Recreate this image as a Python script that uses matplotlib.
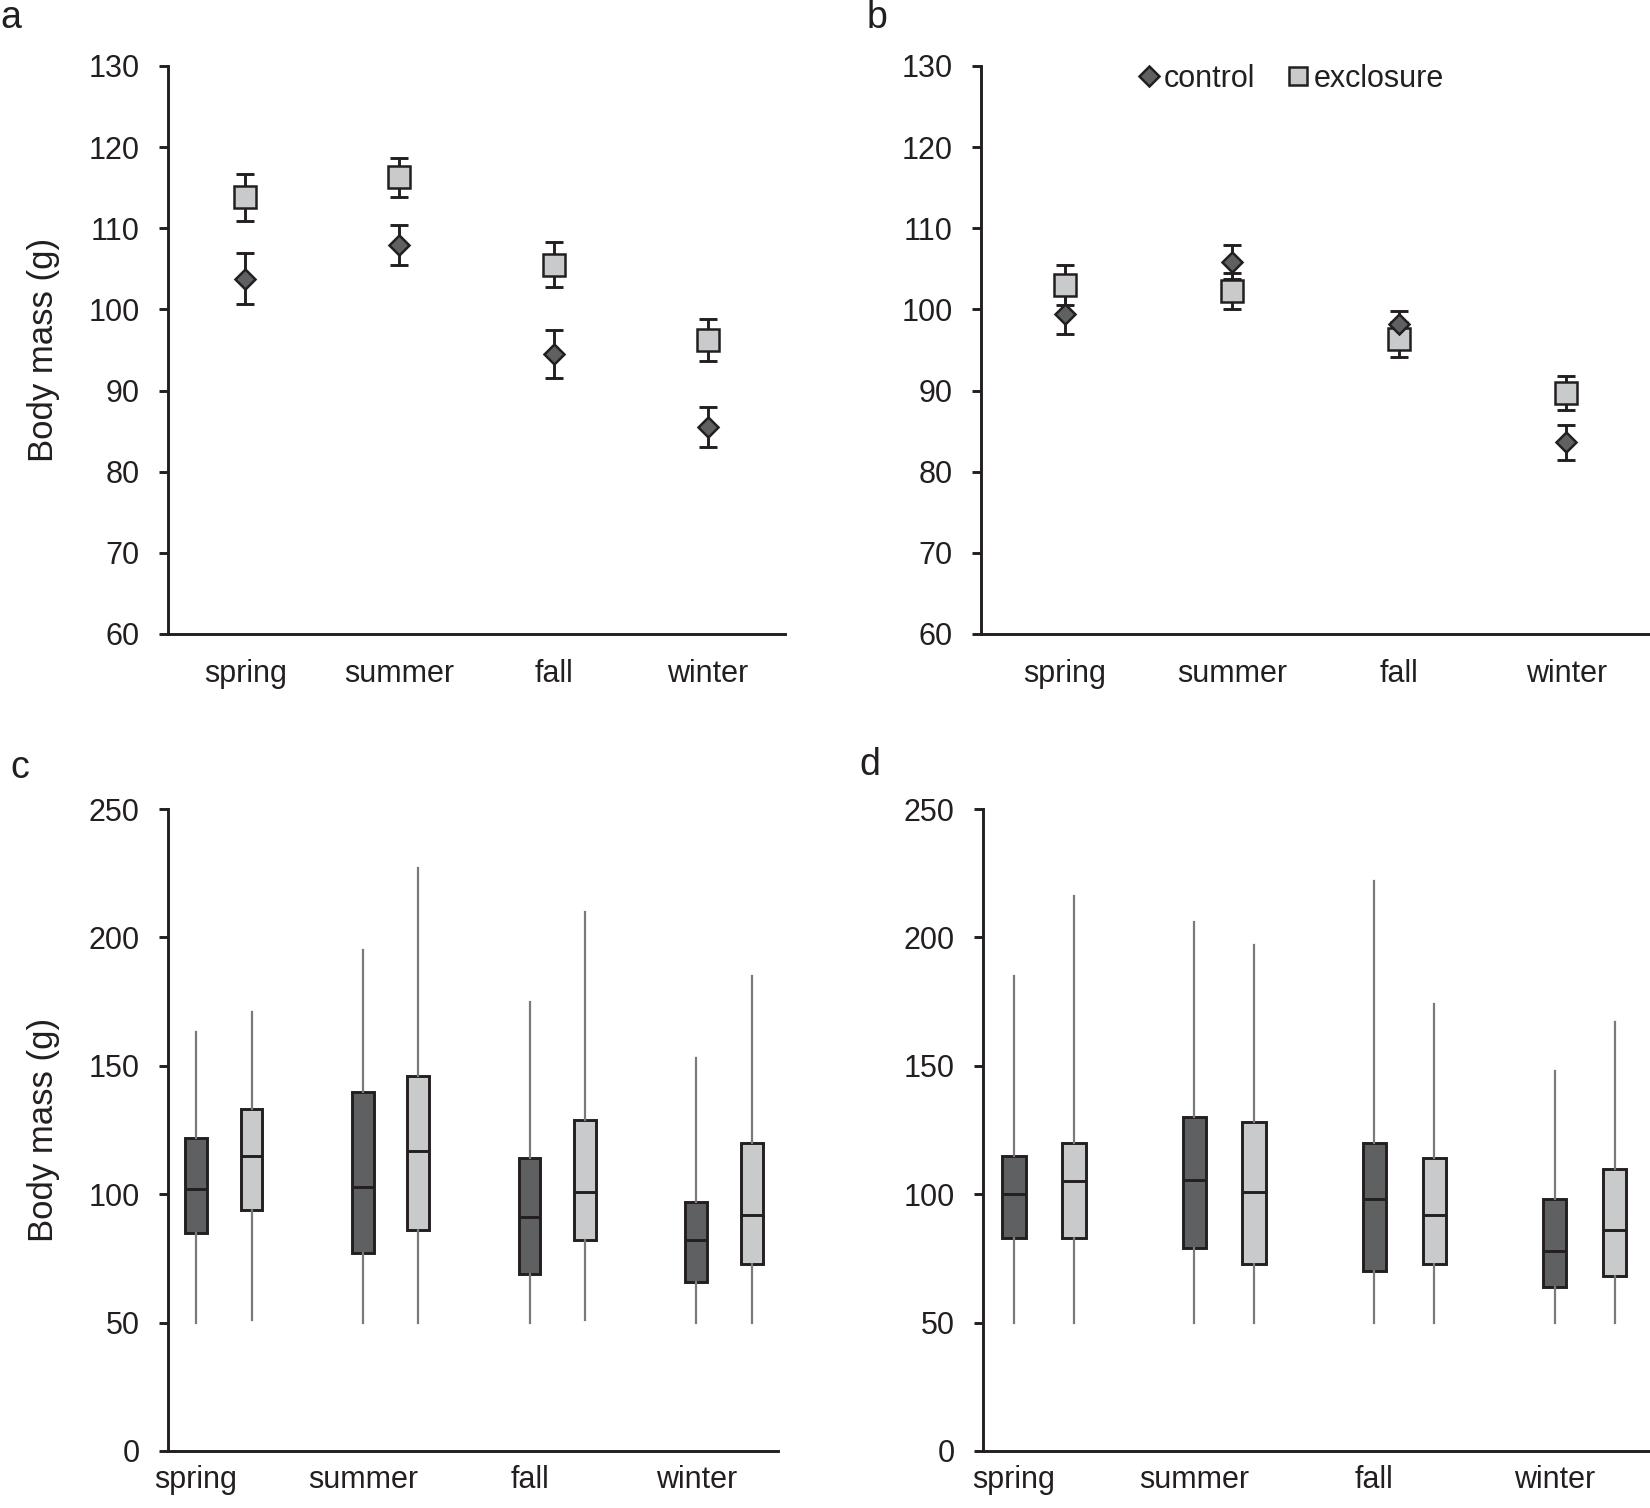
import matplotlib
matplotlib.use("Agg")
import matplotlib.pyplot as plt
from matplotlib.lines import Line2D

plt.rcParams['font.family'] = ['Liberation Sans', 'DejaVu Sans']

seasons = ['spring', 'summer', 'fall', 'winter']

# panel a: mean +/- error
a_control = [103.8, 107.9, 94.5, 85.5]
a_control_err = [3.1, 2.45, 2.9, 2.5]
a_exclosure = [113.8, 116.3, 105.5, 96.2]
a_exclosure_err = [2.9, 2.4, 2.8, 2.55]

# panel b
b_control = [99.4, 105.8, 98.2, 83.6]
b_control_err = [2.4, 2.1, 1.6, 2.2]
b_exclosure = [103.0, 102.3, 96.3, 89.7]
b_exclosure_err = [2.45, 2.2, 2.2, 2.1]

# panel c: box plot stats (min, q1, median, q3, max)
c_control_min = [50, 50, 50, 50]
c_control_q1 = [85, 77, 69, 66]
c_control_med = [102, 103, 91, 82]
c_control_q3 = [122, 140, 114, 97]
c_control_max = [163, 195, 175, 153]
c_exclosure_min = [51, 50, 51, 50]
c_exclosure_q1 = [94, 86, 82, 73]
c_exclosure_med = [115, 117, 101, 92]
c_exclosure_q3 = [133, 146, 129, 120]
c_exclosure_max = [171, 227, 210, 185]

# panel d
d_control_min = [50, 50, 50, 50]
d_control_q1 = [83, 79, 70, 64]
d_control_med = [100, 105.5, 98, 78]
d_control_q3 = [115, 130, 120, 98]
d_control_max = [185, 206, 222, 148]
d_exclosure_min = [50, 50, 50, 50]
d_exclosure_q1 = [83, 73, 73, 68]
d_exclosure_med = [105, 101, 92, 86]
d_exclosure_q3 = [120, 128, 114, 110]
d_exclosure_max = [216, 197, 174, 167]

DARK = '#5f6062'
LIGHT = '#c9cacc'
EDGE = '#231f20'
WHISK = '#7a7a7a'
FS = 22
LW = 2.1

fig = plt.figure(figsize=(16.5, 15.08), dpi=100)
ax_a = fig.add_axes([0.1018, 0.5796, 0.374, 0.3767])
ax_b = fig.add_axes([0.5945, 0.5796, 0.4055, 0.3767])
ax_c = fig.add_axes([0.1018, 0.0378, 0.3697, 0.4257])
ax_d = fig.add_axes([0.5958, 0.0378, 0.4042, 0.4257])


def style(ax):
    for s in ['top', 'right']:
        ax.spines[s].set_visible(False)
    for s in ['left', 'bottom']:
        ax.spines[s].set_color(EDGE)
        ax.spines[s].set_linewidth(LW)
    ax.tick_params(axis='y', direction='out', length=6.5, width=LW,
                   color=EDGE, labelsize=FS, labelcolor=EDGE, pad=14)
    ax.tick_params(axis='x', length=0, labelsize=FS, labelcolor=EDGE)


def points(ax, ctrl, ctrl_err, excl, excl_err):
    x = list(range(1, len(seasons) + 1))
    ax.errorbar(x, excl, yerr=excl_err, fmt='none', ecolor=EDGE,
                elinewidth=LW, capsize=6.5, capthick=LW, zorder=2)
    ax.errorbar(x, ctrl, yerr=ctrl_err, fmt='none', ecolor=EDGE,
                elinewidth=LW, capsize=6.5, capthick=LW, zorder=2)
    ax.plot(x, excl, 's', ms=15.5, mfc=LIGHT, mec=EDGE, mew=1.8,
            ls='none', zorder=3)
    ax.plot(x, ctrl, 'D', ms=10.5, mfc=DARK, mec=EDGE, mew=1.8,
            ls='none', zorder=4)
    ax.set_xlim(0.5, 4.5)
    ax.set_ylim(60, 130)
    ax.set_yticks(range(60, 131, 10))
    ax.set_xticks(x)
    ax.set_xticklabels(seasons)
    style(ax)
    ax.tick_params(axis='x', pad=18)


def boxes(ax, cmin, cq1, cmed, cq3, cmax, emin, eq1, emed, eq3, emax,
          xlim):
    stats_c = []
    stats_e = []
    for i in range(len(seasons)):
        stats_c.append(dict(whislo=cmin[i], q1=cq1[i], med=cmed[i],
                            q3=cq3[i], whishi=cmax[i], fliers=[]))
        stats_e.append(dict(whislo=emin[i], q1=eq1[i], med=emed[i],
                            q3=eq3[i], whishi=emax[i], fliers=[]))
    pos = [1, 2, 3, 4]
    pos_e = [p + 0.333 for p in pos]
    for st, ps, col in [(stats_c, pos, DARK), (stats_e, pos_e, LIGHT)]:
        ax.bxp(st, positions=ps, widths=0.13, patch_artist=True,
               showcaps=False, showfliers=False,
               boxprops=dict(facecolor=col, edgecolor=EDGE, linewidth=LW),
               medianprops=dict(color=EDGE, linewidth=LW),
               whiskerprops=dict(color=WHISK, linewidth=1.6))
    ax.set_xlim(*xlim)
    ax.set_ylim(0, 250)
    ax.set_yticks(range(0, 251, 50))
    ax.set_xticks(pos)
    ax.set_xticklabels(seasons)
    style(ax)
    ax.tick_params(axis='x', pad=10)


points(ax_a, a_control, a_control_err, a_exclosure, a_exclosure_err)
points(ax_b, b_control, b_control_err, b_exclosure, b_exclosure_err)
boxes(ax_c, c_control_min, c_control_q1, c_control_med, c_control_q3,
      c_control_max, c_exclosure_min, c_exclosure_q1, c_exclosure_med,
      c_exclosure_q3, c_exclosure_max, (0.832, 4.49))
boxes(ax_d, d_control_min, d_control_q1, d_control_med, d_control_q3,
      d_control_max, d_exclosure_min, d_exclosure_q1, d_exclosure_med,
      d_exclosure_q3, d_exclosure_max, (0.828, 4.53))

ax_a.set_ylabel('Body mass (g)', fontsize=25, color=EDGE)
ax_a.yaxis.set_label_coords(-108 / 617, 0.5)
ax_c.set_ylabel('Body mass (g)', fontsize=25, color=EDGE)
ax_c.yaxis.set_label_coords(-108 / 610, 0.5)

handles = [
    Line2D([], [], marker='D', ms=10, mfc=DARK, mec=EDGE, mew=1.8,
           ls='none'),
    Line2D([], [], marker='s', ms=13, mfc=LIGHT, mec=EDGE, mew=1.8,
           ls='none'),
]
ax_b.legend(handles, ['control', 'exclosure'], ncol=2, frameon=False,
            loc='upper center', bbox_to_anchor=(0.46, 1.052), fontsize=FS,
            handletextpad=0.0, columnspacing=0.9, handlelength=1.0,
            labelcolor=EDGE)

for lab, x, y in [('a', 0, 18), ('b', 867, 18), ('c', 10, 768),
                  ('d', 859, 765)]:
    fig.text(x / 1650, 1 - y / 1508, lab, fontsize=27, color=EDGE,
             ha='left', va='center')

fig.savefig('out.png', dpi=100)
